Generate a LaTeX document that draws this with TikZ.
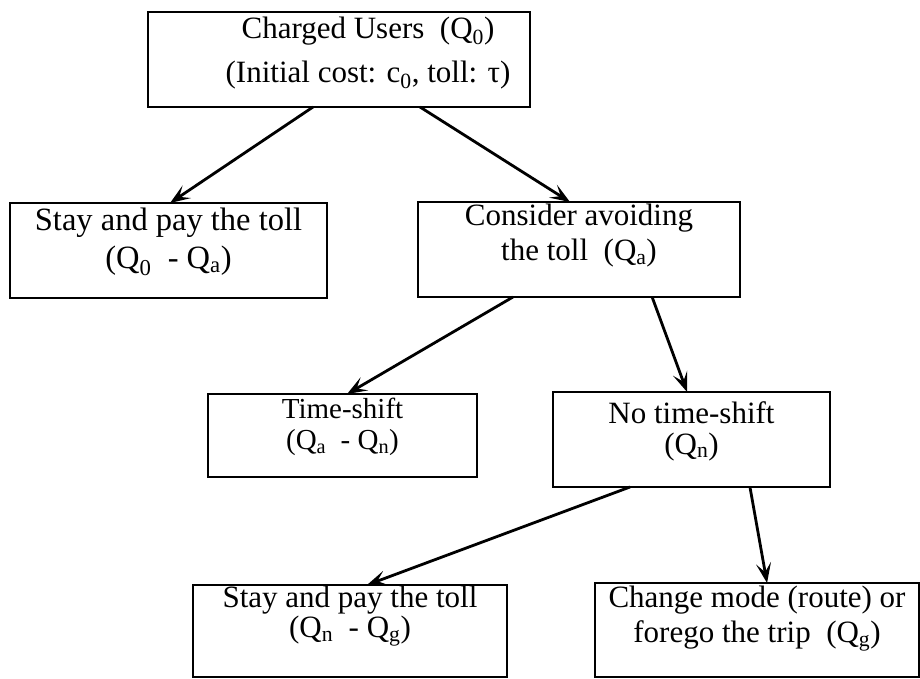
\documentclass[tikz,border=0pt]{standalone}
\usepackage{fontspec}
\setmainfont{Liberation Serif}
\usetikzlibrary{arrows.meta,calc}
\newcommand{\sub}[1]{\textsubscript{#1}}
\begin{document}
\begin{tikzpicture}[x=1pt,y=-1pt,
  box/.style={draw,line width=2.8pt,inner sep=0pt,outer sep=0pt},
  txt/.style={anchor=north,inner sep=0pt,align=center},
  arr/.style={line width=2.8pt,-{Stealth[length=20pt,width=15pt,inset=9pt]}}]
\useasboundingbox (0,0) rectangle (920,679);
% boxes
\node[box,minimum width=382pt,minimum height=95pt] (top) at (339,59.5) {};
\node[box,minimum width=317pt,minimum height=95pt] (stay) at (168.5,250.5) {};
\node[box,minimum width=322pt,minimum height=95pt] (cons) at (579,249.5) {};
\node[box,minimum width=269pt,minimum height=83pt] (tshift) at (342.5,435.5) {};
\node[box,minimum width=277pt,minimum height=95pt] (notshift) at (691.5,439.5) {};
\node[box,minimum width=314pt,minimum height=92pt] (stay2) at (350,631) {};
\node[box,minimum width=324pt,minimum height=94pt] (change) at (757,630) {};
% texts
\node[txt,font=\fontsize{31}{44}\selectfont] (ttop) at ($(top.north)+(29,5)$)
  {Charged Users\ \ (Q\sub{0})\\(Initial cost: c\sub{0}, toll: τ)};
\node[txt,font=\fontsize{32.5}{38}\selectfont] (tstay) at ($(stay.north)+(0,5)$)
  {Stay and pay the toll\\(Q\sub{0}\ \ - Q\sub{a})};
\node[txt,font=\fontsize{31}{35}\selectfont] (tcons) at ($(cons.north)+(0,2)$)
  {Consider avoiding\\the toll\ \ (Q\sub{a})};
\node[txt,font=\fontsize{29}{31}\selectfont] (ttshift) at ($(tshift.north)+(0,4)$)
  {Time-shift\\(Q\sub{a}\ \ - Q\sub{n})};
\node[txt,font=\fontsize{31}{31}\selectfont] (tnotshift) at ($(notshift.north)+(0,9)$)
  {No time-shift\\(Q\sub{n})};
\node[txt,font=\fontsize{31}{30}\selectfont] (tstay2) at ($(stay2.north)+(0,1)$)
  {Stay and pay the toll\\(Q\sub{n}\ \ - Q\sub{g})};
\node[txt,font=\fontsize{31}{35}\selectfont] (tchange) at ($(change.north)+(0,3)$)
  {Change mode (route) or\\forego the trip\ \ (Q\sub{g})};
% arrows
\draw[arr] ($(top.south west)!0.432!(top.south east)$) -- ($(stay.north west)!0.505!(stay.north east)$);
\draw[arr] ($(top.south west)!0.712!(top.south east)$) -- ($(cons.north west)!0.472!(cons.north east)$);
\draw[arr] ($(cons.south west)!0.295!(cons.south east)$) -- ($(tshift.north west)!0.517!(tshift.north east)$);
\draw[arr] ($(cons.south west)!0.727!(cons.south east)$) -- ($(notshift.north west)!0.484!(notshift.north east)$);
\draw[arr] ($(notshift.south west)!0.278!(notshift.south east)$) -- ($(stay2.north west)!0.554!(stay2.north east)$);
\draw[arr] ($(notshift.south west)!0.711!(notshift.south east)$) -- ($(change.north west)!0.531!(change.north east)$);
\end{tikzpicture}
\end{document}
